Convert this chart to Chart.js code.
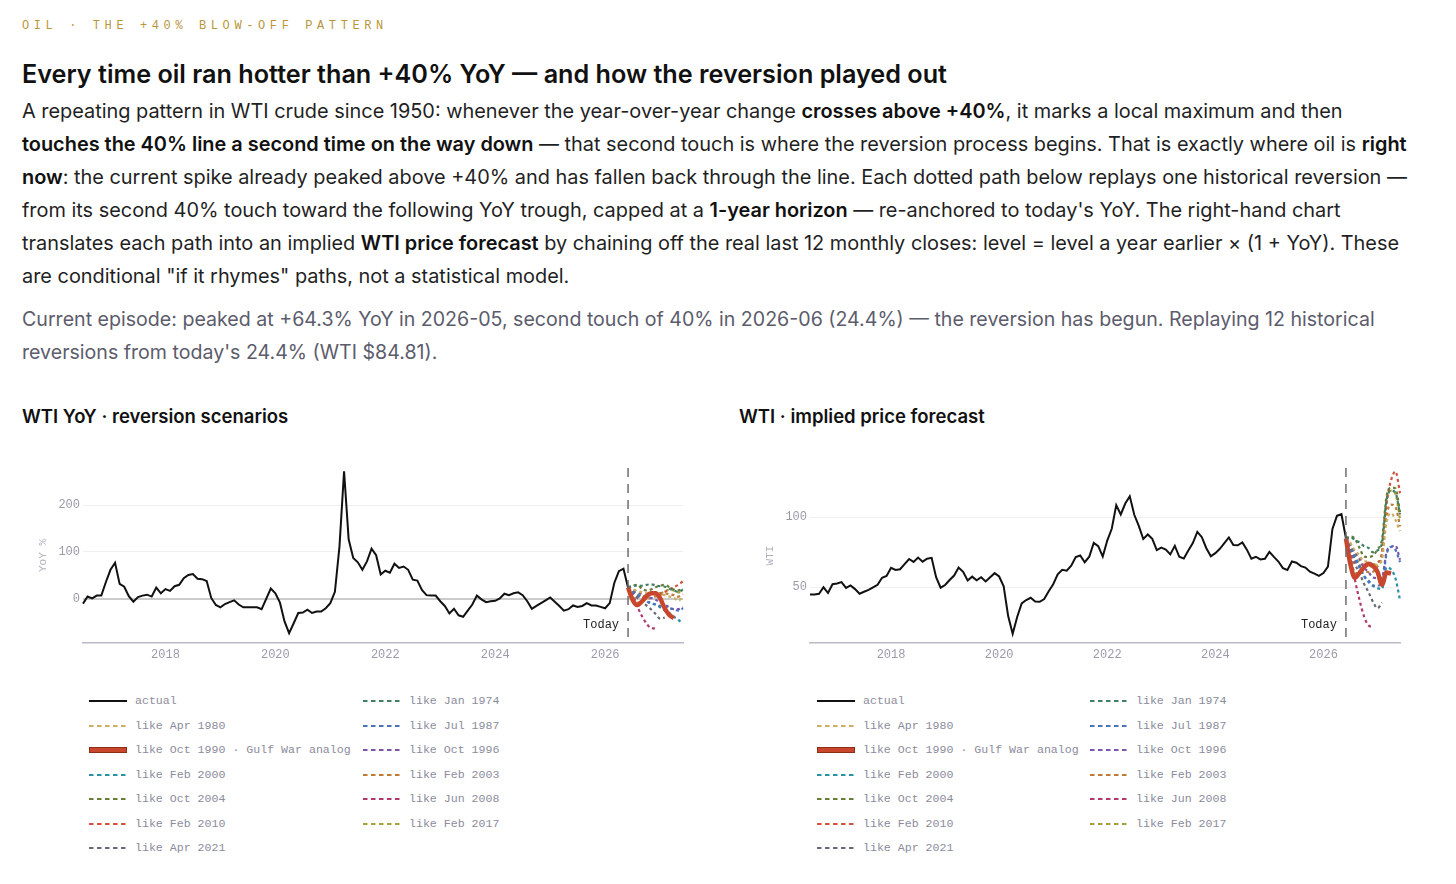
<!DOCTYPE html>
<html>
<head>
<meta charset="utf-8">
<script src="https://cdn.jsdelivr.net/npm/chart.js@4.4.1/dist/chart.umd.min.js"></script>
<style>
  body { margin: 0; background: #fff; font-family: Inter, "Noto Sans", sans-serif; color: #1f1f24; }
  #page { position: relative; width: 1456px; height: 884px; overflow: hidden; }
  .kicker { position: absolute; left: 22px; top: 16px; font: 12px/20px "Liberation Mono", monospace; letter-spacing: 4.6px; color: #b8963a; white-space: nowrap; }
  h1 { position: absolute; left: 22px; top: 58px; margin: 0; font-size: 25.2px; line-height: 32px; font-weight: 600; color: #111; white-space: nowrap; }
  .lede { position: absolute; left: 22px; top: 95px; font-size: 19.9px; line-height: 33px; white-space: nowrap; color: #1f1f24; }
  .lede b { font-weight: 600; color: #111; }
  .note { position: absolute; left: 22px; top: 303px; font-size: 19.6px; line-height: 33px; white-space: nowrap; color: #5c5c6c; }
  .ctitle { position: absolute; top: 404px; font-size: 18.5px; line-height: 24px; font-weight: 600; color: #111; white-space: nowrap; }
  .chartbox { position: absolute; top: 455px; height: 215px; }
  .legend { position: absolute; top: 689px; display: grid; grid-template-columns: 274px 274px; font: 11.6px/24.5px "Liberation Mono", monospace; color: #8b8b9c; }
  .legend .it { display: flex; align-items: center; white-space: nowrap; }
  .legend svg { width: 38px; height: 8px; margin-right: 8px; flex: none; }
</style>
</head>
<body>
<div id="page">
  <div class="kicker">OIL · THE +40% BLOW-OFF PATTERN</div>
  <h1>Every time oil ran hotter than +40% YoY — and how the reversion played out</h1>
  <div class="lede">
    A repeating pattern in WTI crude since 1950: whenever the year-over-year change <b>crosses above +40%</b>, it marks a local maximum and then<br>
    <b>touches the 40% line a second time on the way down</b> — that second touch is where the reversion process begins. That is exactly where oil is <b>right</b><br>
    <b>now</b>: the current spike already peaked above +40% and has fallen back through the line. Each dotted path below replays one historical reversion —<br>
    from its second 40% touch toward the following YoY trough, capped at a <b>1-year horizon</b> — re-anchored to today's YoY. The right-hand chart<br>
    translates each path into an implied <b>WTI price forecast</b> by chaining off the real last 12 monthly closes: level = level a year earlier × (1 + YoY). These<br>
    are conditional "if it rhymes" paths, not a statistical model.
  </div>
  <div class="note">
    Current episode: peaked at +64.3% YoY in 2026-05, second touch of 40% in 2026-06 (24.4%) — the reversion has begun. Replaying 12 historical<br>
    reversions from today's 24.4% (WTI $84.81).
  </div>

  <div class="ctitle" style="left:22px">WTI YoY · reversion scenarios</div>
  <div class="ctitle" style="left:739px">WTI · implied price forecast</div>

  <div class="chartbox" style="left:22px; width:673px"><canvas id="yoyChart"></canvas></div>
  <div class="chartbox" style="left:749px; width:663px"><canvas id="wtiChart"></canvas></div>

  <div class="legend" id="legendYoy" style="left:89px"></div>
  <div class="legend" id="legendWti" style="left:817px; grid-template-columns: 273px 273px"></div>
</div>

<script>
// monthly axis: Jul 2016 .. Jun 2027, actual data ends Jun 2026
const firstMonth = [2016, 7];
const monthCount = 132;
const todayIndex = 119;
const xTickYears = ['2018', '2020', '2022', '2024', '2026'];
const yoyTicks = [0, 100, 200];
const wtiTicks = [50, 100];

// actual WTI YoY %, Jul 2016 .. Jun 2026
const yoyActual = [
  -10, 5, 1, 7, 7, 36,
  62, 77, 32, 26, 6, -6, 4, 7, 9, 5, 24, 12,
  21, 17, 27, 30, 44, 51, 53, 43, 42, 38, 2, -13,
  -18, -11, -7, -3, -12, -18, -18, -18, -18, -22, 0, 22,
  12, -8, -48, -73, -52, -30, -29, -23, -30, -27, -27, -20,
  -9, 15, 112, 272, 127, 87, 78, 62, 80, 107, 93, 52,
  60, 56, 75, 66, 69, 62, 41, 39, 19, 8, 7, 7,
  -5, -15, -31, -21, -35, -38, -25, -12, 7, -1, -7, -5,
  -4, 1, 11, 8, 12, 14, 8, -5, -21, -15, -9, -3,
  3, -6, -15, -25, -22, -14, -17, -15, -9, -14, -14, -17,
  -20, -9, 34, 59, 64.3, 24.4
];

// actual WTI monthly level, Jul 2016 .. Jun 2026
const wtiActual = [
  44.7, 44.7, 45.2, 49.8, 45.7, 52.0,
  52.5, 53.5, 49.3, 51.1, 48.5, 45.2, 46.6, 48.0, 49.8, 51.6, 56.6, 57.9,
  63.7, 62.2, 62.7, 66.3, 70.0, 67.9, 71.0, 68.1, 70.2, 70.8, 57.0, 49.5,
  51.4, 55.0, 58.2, 63.9, 60.8, 54.7, 57.4, 54.8, 57.0, 54.0, 57.0, 59.9,
  57.5, 50.5, 29.2, 16.6, 28.6, 38.3, 40.7, 42.3, 39.6, 39.4, 41.4, 47.0,
  52.0, 59.0, 62.3, 61.7, 65.2, 71.4, 72.5, 67.7, 71.6, 81.5, 79.2, 71.7,
  83.2, 91.6, 108.5, 101.8, 109.6, 114.8, 101.6, 93.7, 84.3, 87.5, 84.4, 76.4,
  78.1, 76.8, 73.3, 79.4, 71.6, 70.3, 76.0, 81.4, 89.4, 85.6, 77.7, 71.9,
  74.2, 77.3, 81.3, 85.4, 80.0, 79.8, 81.8, 76.7, 70.2, 71.6, 69.7, 70.1,
  75.1, 71.5, 68.2, 63.5, 62.2, 68.2, 67.3, 64.9, 63.9, 60.9, 59.5, 58.0,
  60.0, 64.5, 91.5, 100.8, 102.0, 84.81
];

// scenario paths, starting at today (Jun 2026)
const yoyJan1974 = [24.4, 27, 29, 28, 30, 31, 29, 27, 26, 22, 18, 15, 20];
const wtiJan1974 = [84.81, 85.5, 83.7, 81.8, 79.2, 77.9, 74.8, 76.2, 81.3, 111.6, 118.9, 117.3, 101.8];
const yoyApr1980 = [24.4, 21, 17, 14, 12, 15, 13, 10, 8, 5, 2, -4, 6];
const wtiApr1980 = [84.81, 81.4, 75.9, 72.8, 68.2, 68.4, 65.5, 66.0, 69.7, 96.1, 102.8, 97.9, 89.9];
const yoyJul1987 = [24.4, 15, 8, 0, -5, -10, -12, -15, -18, -20, -22, -25, -20];
const wtiJul1987 = [84.81, 77.4, 70.1, 63.9, 57.9, 53.6, 51.0, 51.0, 52.9, 73.2, 78.6, 76.5, 67.8];
const yoyOct1990 = [24.4, -2, -13, -6, 5, 12, 12, 1.5, -20, -34, -41];
const wtiOct1990 = [84.81, 66.0, 56.5, 60.1, 63.9, 66.6, 65.0, 60.9, 51.6, 60.4, 59.5];
const yoyOct1996 = [24.4, 20, 15, 10, 5, 2, -2, -6, -12, -18, -22, -22, -18];
const wtiOct1996 = [84.81, 80.8, 74.6, 70.3, 63.9, 60.7, 56.8, 56.4, 56.8, 75.0, 78.6, 79.6, 69.5];
const yoyFeb2000 = [24.4, 18, 10, 2, -5, -8, -12, -18, -25, -30, -38, -45, -52];
const wtiFeb2000 = [84.81, 79.4, 71.4, 65.2, 57.9, 54.7, 51.0, 49.2, 48.4, 64.1, 62.5, 56.1, 40.7];
const yoyFeb2003 = [24.4, 5, -8, -5, 0, 2, 5, 8, 12, 10, 8, 5, 10];
const wtiFeb2003 = [84.81, 70.7, 59.7, 60.7, 60.9, 60.7, 60.9, 64.8, 72.2, 100.7, 108.9, 107.1, 93.3];
const yoyOct2004 = [24.4, 28, 30, 22, 18, 20, 25, 28, 30, 25, 20, 18, 22];
const wtiOct2004 = [84.81, 86.1, 84.4, 78.0, 71.9, 71.4, 72.5, 76.8, 83.9, 114.4, 121.0, 120.4, 103.5];
const yoyJun2008 = [24.4, 10, -15, -36, -52, -62, -63];
const wtiJun2008 = [84.81, 74.0, 55.2, 40.9, 29.2, 22.6, 21.5];
const yoyFeb2010 = [24.4, 15, 6, 2, 8, 12, 10, 12, 15, 20, 25, 30, 38];
const wtiFeb2010 = [84.81, 77.4, 68.8, 65.2, 65.8, 66.6, 63.8, 67.2, 74.2, 109.8, 126.0, 132.6, 117.0];
const yoyFeb2017 = [24.4, 18, 12, 5, 8, 10, 14, 12, 16, 20, 18, 14, 16];
const wtiFeb2017 = [84.81, 79.4, 72.7, 67.1, 65.8, 65.5, 66.1, 67.2, 74.8, 109.8, 118.9, 116.3, 98.4];
const yoyApr2021 = [24.4, 12, 2, -6, -14, -22, -32, -42, -40];
const wtiApr2021 = [84.81, 75.4, 66.2, 60.1, 52.4, 46.4, 39.4, 34.8, 38.7];

const scenarios = [
  { name: 'like Jan 1974', color: '#3f7f62', yoy: yoyJan1974, wti: wtiJan1974 },
  { name: 'like Apr 1980', color: '#c9ae63', yoy: yoyApr1980, wti: wtiApr1980 },
  { name: 'like Jul 1987', color: '#4a73bd', yoy: yoyJul1987, wti: wtiJul1987 },
  { name: 'like Oct 1990 · Gulf War analog', color: '#c8462b', yoy: yoyOct1990, wti: wtiOct1990, main: true },
  { name: 'like Oct 1996', color: '#7d55aa', yoy: yoyOct1996, wti: wtiOct1996 },
  { name: 'like Feb 2000', color: '#2a8fa6', yoy: yoyFeb2000, wti: wtiFeb2000 },
  { name: 'like Feb 2003', color: '#bf7a36', yoy: yoyFeb2003, wti: wtiFeb2003 },
  { name: 'like Oct 2004', color: '#667d3a', yoy: yoyOct2004, wti: wtiOct2004 },
  { name: 'like Jun 2008', color: '#b03a6d', yoy: yoyJun2008, wti: wtiJun2008 },
  { name: 'like Feb 2010', color: '#cf5140', yoy: yoyFeb2010, wti: wtiFeb2010 },
  { name: 'like Feb 2017', color: '#a5a13c', yoy: yoyFeb2017, wti: wtiFeb2017 },
  { name: 'like Apr 2021', color: '#686a78', yoy: yoyApr2021, wti: wtiApr2021 }
];

const monoFont = '"Liberation Mono", monospace';

let months = [];
for (let i = 0; i < monthCount; i++) {
  let m = firstMonth[1] - 1 + i;
  let y = firstMonth[0] + Math.floor(m / 12);
  months.push(y + '-' + String(m % 12 + 1).padStart(2, '0'));
}

function buildDatasets(key) {
  let actual = key === 'yoy' ? yoyActual : wtiActual;
  let datasets = [{
    label: 'actual',
    data: actual,
    borderColor: '#111',
    borderWidth: 2,
    pointRadius: 0,
    tension: 0
  }];
  for (let s of scenarios) {
    datasets.push({
      label: s.name,
      data: s[key].map((v, k) => ({ x: months[todayIndex + k], y: v })),
      borderColor: s.color,
      borderWidth: s.main ? 4.5 : 2.2,
      borderDash: s.main ? [] : [3, 3],
      pointRadius: 0,
      cubicInterpolationMode: 'monotone',
      order: s.main ? -1 : 1
    });
  }
  return datasets;
}

// dashed "Today" marker
const todayLine = {
  id: 'todayLine',
  afterDatasetsDraw(chart) {
    let ctx = chart.ctx;
    let area = chart.chartArea;
    let x = chart.scales.x.getPixelForValue(todayIndex);
    ctx.save();
    ctx.strokeStyle = '#6e6e6e';
    ctx.lineWidth = 1.5;
    ctx.setLineDash([9, 7]);
    ctx.beginPath();
    ctx.moveTo(x, area.top);
    ctx.lineTo(x, area.bottom);
    ctx.stroke();
    ctx.setLineDash([]);
    ctx.fillStyle = '#222';
    ctx.font = '12px ' + monoFont;
    ctx.textAlign = 'right';
    ctx.textBaseline = 'middle';
    ctx.fillText('Today', x - 9, area.bottom - 18);
    ctx.restore();
  }
};

function makeChart(id, key, yMin, yMax, yTicks, yTitle) {
  let ctx = document.getElementById(id).getContext('2d');
  return new Chart(ctx, {
    type: 'line',
    data: { labels: months, datasets: buildDatasets(key) },
    plugins: [todayLine],
    options: {
      responsive: true,
      maintainAspectRatio: false,
      animation: false,
      layout: { padding: { left: 14, right: 12, top: 13, bottom: 0 } },
      plugins: { legend: { display: false }, tooltip: { enabled: false } },
      scales: {
        x: {
          type: 'category',
          offset: false,
          grid: { display: false, drawTicks: false },
          border: { display: true, color: '#b9b9c7', width: 1.5 },
          ticks: {
            autoSkip: false,
            maxRotation: 0,
            minRotation: 0,
            padding: 5,
            color: '#9a9aab',
            font: { family: monoFont, size: 12 },
            callback: function(val) {
              let label = this.getLabelForValue(val);
              let year = label.slice(0, 4);
              return label.endsWith('-01') && xTickYears.includes(year) ? year : '';
            }
          },
          afterFit: scale => { scale.height = 27; }
        },
        y: {
          min: yMin,
          max: yMax,
          border: { display: false },
          grid: {
            drawTicks: false,
            color: c => (key === 'yoy' && c.tick.value === 0) ? '#cbcbcb' : '#efefef',
            lineWidth: c => (key === 'yoy' && c.tick.value === 0) ? 2 : 1
          },
          ticks: {
            padding: 3,
            color: '#9a9aab',
            font: { family: monoFont, size: 12 }
          },
          title: {
            display: true,
            text: yTitle,
            color: '#b0b0be',
            padding: { top: 0, bottom: 4 },
            font: { family: monoFont, size: 11 }
          },
          afterBuildTicks: scale => { scale.ticks = yTicks.map(v => ({ value: v })); },
          afterFit: scale => { scale.width = 47; }
        }
      }
    }
  });
}

makeChart('yoyChart', 'yoy', -94, 279, yoyTicks, 'YoY %');
makeChart('wtiChart', 'wti', 10, 135, wtiTicks, 'WTI');

// html legend, two columns filled row by row
function swatch(s) {
  if (!s) return '<svg viewBox="0 0 38 8"><line x1="0" y1="4" x2="38" y2="4" stroke="#111" stroke-width="2"/></svg>';
  if (s.main) return '<svg viewBox="0 0 38 8"><rect x="0.5" y="1.5" width="37" height="5" fill="' + s.color + '" stroke="#8f2c1a" stroke-width="1"/></svg>';
  return '<svg viewBox="0 0 38 8"><line x1="0" y1="4" x2="38" y2="4" stroke="' + s.color + '" stroke-width="2.2" stroke-dasharray="4.5 3.5"/></svg>';
}

function buildLegend(id) {
  let html = '<div class="it">' + swatch(null) + 'actual</div>';
  scenarios.forEach(s => {
    html += '<div class="it">' + swatch(s) + s.name + '</div>';
  });
  document.getElementById(id).innerHTML = html;
}
buildLegend('legendYoy');
buildLegend('legendWti');
</script>
</body>
</html>
